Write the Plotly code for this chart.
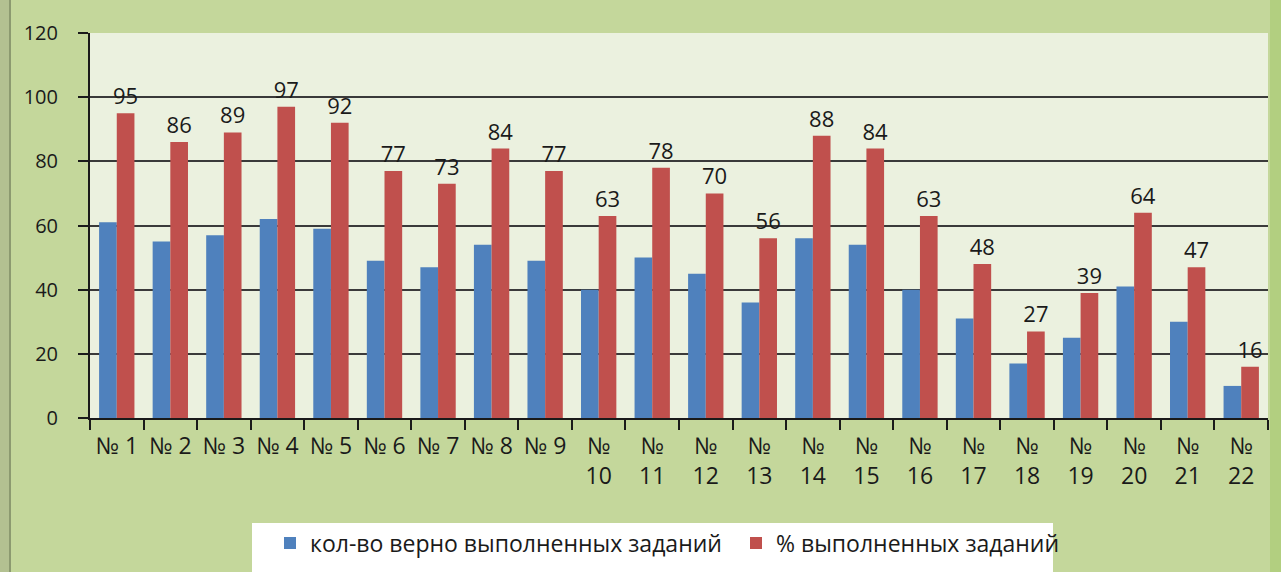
import plotly.graph_objects as go

categories = ["№ 1", "№ 2", "№ 3", "№ 4", "№ 5", "№ 6", "№ 7", "№ 8", "№ 9",
              "№<br>10", "№<br>11", "№<br>12", "№<br>13", "№<br>14", "№<br>15", "№<br>16",
              "№<br>17", "№<br>18", "№<br>19", "№<br>20", "№<br>21", "№<br>22"]
correct_count = [61, 55, 57, 62, 59, 49, 47, 54, 49, 40, 50, 45, 36, 56, 54, 40, 31, 17, 25, 41, 30, 10]
percent_done = [95, 86, 89, 97, 92, 77, 73, 84, 77, 63, 78, 70, 56, 88, 84, 63, 48, 27, 39, 64, 47, 16]
series_names = ["кол-во верно выполненных заданий", "% выполненных заданий"]
y_ticks = [0, 20, 40, 60, 80, 100, 120]

FONT = "Open Sans"
W, H = 1281, 572
L, R, T, B = 90, 13, 33, 154
PW = W - L - R
PH = H - T - B

fig = go.Figure()
fig.add_trace(go.Bar(x=categories, y=correct_count, name=series_names[0],
                     marker=dict(color="#4f81bd", line=dict(width=0))))
fig.add_trace(go.Bar(x=categories, y=percent_done, name=series_names[1],
                     marker=dict(color="#c0504d", line=dict(width=0)),
                     text=[str(v) for v in percent_done], textposition="outside",
                     cliponaxis=False, constraintext="none",
                     textfont=dict(family=FONT, size=22, color="#1a1a1a")))

def px_x(px):
    return (px - L) / PW

def px_y(py):
    return (H - B - py) / PH

shapes = [
    dict(type="rect", xref="paper", yref="paper", x0=px_x(0), x1=px_x(10),
         y0=px_y(H), y1=px_y(0), fillcolor="#b3c191", line=dict(width=0), layer="below"),
    dict(type="line", xref="paper", yref="paper", x0=px_x(10), x1=px_x(10),
         y0=px_y(H), y1=px_y(0), line=dict(color="#8c9a70", width=2), layer="below"),
    dict(type="rect", xref="paper", yref="paper", x0=px_x(1270), x1=px_x(1281),
         y0=px_y(H), y1=px_y(0), fillcolor="#b2cf80", line=dict(width=0), layer="below"),
    dict(type="rect", xref="paper", yref="paper", x0=px_x(252), x1=px_x(1053),
         y0=px_y(H + 5), y1=px_y(523), fillcolor="#ffffff", line=dict(width=0), layer="below"),
]

fig.update_layout(
    width=W, height=H,
    margin=dict(l=L, r=R, t=T, b=B, autoexpand=False),
    paper_bgcolor="#c4d79b",
    plot_bgcolor="#ebf1df",
    barmode="group",
    bargap=0.34,
    bargroupgap=0,
    font=dict(family=FONT, size=17, color="#1a1a1a"),
    showlegend=True,
    legend=dict(orientation="h", xref="container", yref="container",
                x=270 / W, xanchor="left", y=1 - 543 / H, yanchor="middle",
                bgcolor="rgba(0,0,0,0)", font=dict(family=FONT, size=23, color="#1a1a1a"),
                itemwidth=30, traceorder="normal", entrywidth=421, entrywidthmode="pixels"),
    shapes=shapes,
    xaxis=dict(type="category", showline=True, linecolor="#1a1a1a", linewidth=2,
               ticks="outside", tickson="boundaries", ticklen=10, tickcolor="#1a1a1a",
               tickwidth=2, tickfont=dict(family=FONT, size=23, color="#1a1a1a"),
               ticklabelstandoff=6,
               showgrid=False, tickangle=0, automargin=False),
    yaxis=dict(range=[0, 120], tickvals=y_ticks, showline=True, linecolor="#1a1a1a",
               linewidth=2, ticks="outside", ticklen=10, tickcolor="#1a1a1a", tickwidth=2,
               showgrid=True, gridcolor="#3a3a3a", gridwidth=2, zeroline=False,
               ticklabelstandoff=16, automargin=False,
               tickfont=dict(family=FONT, size=20, color="#1a1a1a")),
)

fig.write_html("out.html", config={"displayModeBar": False},
               post_script="document.body.style.margin='0';")
